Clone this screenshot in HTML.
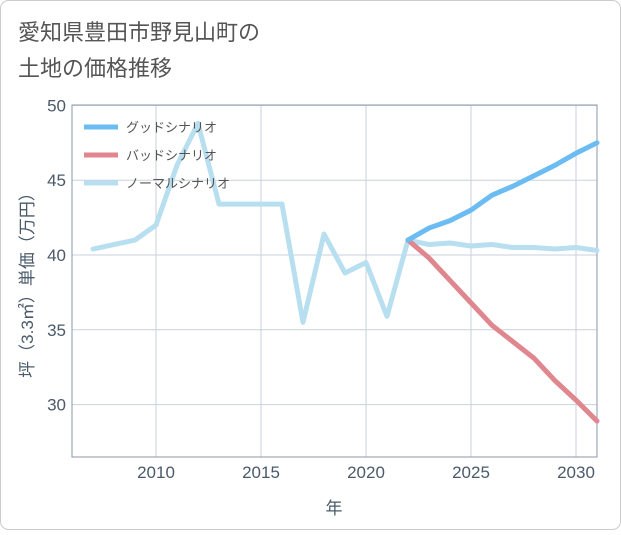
<!DOCTYPE html>
<html><head><meta charset="utf-8"><style>
body{margin:0;background:#fff;font-family:"Liberation Sans","Noto Sans CJK JP",sans-serif;}
#wrap{position:relative;width:621px;height:530px;}
</style></head><body>
<div id="wrap">
<svg id="chart" width="621" height="530"></svg>
</div>
<script>
const years=[2007,2008,2009,2010,2011,2012,2013,2014,2015,2016,2017,2018,2019,2020,2021,2022,2023,2024,2025,2026,2027,2028,2029,2030,2031];
const normalValues=[40.4,40.7,41.0,42.0,46.0,48.8,43.4,43.4,43.4,43.4,35.5,41.4,38.8,39.5,35.9,41.0,40.7,40.8,40.6,40.7,40.5,40.5,40.4,40.5,40.3];
const forecastYears=[2022,2023,2024,2025,2026,2027,2028,2029,2030,2031];
const goodValues=[41.0,41.8,42.3,43.0,44.0,44.6,45.3,46.0,46.8,47.5];
const badValues=[41.0,39.8,38.3,36.8,35.3,34.2,33.1,31.6,30.3,28.9];
const xTicks=[2010,2015,2020,2025,2030];
const yTicks=[30,35,40,45,50];
const legendLabels=["グッドシナリオ","バッドシナリオ","ノーマルシナリオ"];

const NS="http://www.w3.org/2000/svg";
const svg=document.getElementById('chart');
const L=72,R=597,T=105,B=457;
const x=v=>L+(v-2006)*(R-L)/25;
const y=v=>255-(v-40)*14.96;
function el(t,a,p){const e=document.createElementNS(NS,t);for(const k in a)e.setAttribute(k,a[k]);(p||svg).appendChild(e);return e;}
const frame=el('rect',{x:0.5,y:0.5,width:620,height:529,rx:8,fill:'#fff',stroke:'#ccc'});


const t1=el('text',{x:18,y:40,'font-size':22,fill:'#555'});t1.textContent='愛知県豊田市野見山町の';


const t2=el('text',{x:18,y:76,'font-size':22,fill:'#555'});t2.textContent='土地の価格推移';


const grid=el('g',{});


xTicks.forEach(v=>{el('line',{x1:x(v),x2:x(v),y1:T,y2:B,stroke:'#c8d2dc'},grid);
 const tx=el('text',{x:x(v),y:478,'text-anchor':'middle','font-size':17,fill:'#4a5a6a'});tx.textContent=v;
 
 });
yTicks.forEach(v=>{el('line',{x1:L,x2:R,y1:y(v),y2:y(v),stroke:'#c8d2dc'},grid);
 const tx=el('text',{x:66,y:y(v)+6,'text-anchor':'end','font-size':17,fill:'#4a5a6a'});tx.textContent=v;
 
 });
el('rect',{x:L,y:T,width:R-L,height:B-T,fill:'none',stroke:'#8a97a5'});
const xt=el('text',{x:334,y:514,'text-anchor':'middle','font-size':17,fill:'#4a5a6a'});xt.textContent='年';


const yt=el('text',{x:0,y:0,'text-anchor':'middle','font-size':17,fill:'#4a5a6a',transform:'translate(33,281) rotate(-90)'});yt.textContent='坪（3.3㎡）単価（万円）';


function line(xs,vs,color,name){const d=xs.map((v,i)=>(i?'L':'M')+x(v)+','+y(vs[i])).join(' ');
 const p=el('path',{d:d,fill:'none',stroke:color,'stroke-width':5,'stroke-linejoin':'round','stroke-linecap':'round'});
 
 }
line(years,normalValues,'#b8dff0','normal-scenario-line');
line(forecastYears,badValues,'#e0868f','bad-scenario-line');
line(forecastYears,goodValues,'#6bbcf2','good-scenario-line');
const colors=['#6bbcf2','#e0868f','#b8dff0'];
legendLabels.forEach((s,i)=>{const g=el('g',{});
 
 
 const yy=127+i*28;
 el('line',{x1:84,x2:118,y1:yy,y2:yy,stroke:colors[i],'stroke-width':5},g);
 const tx=el('text',{x:126,y:yy+5,'font-size':13,fill:'#555'},g);tx.textContent=s;});
</script>
</body></html>
